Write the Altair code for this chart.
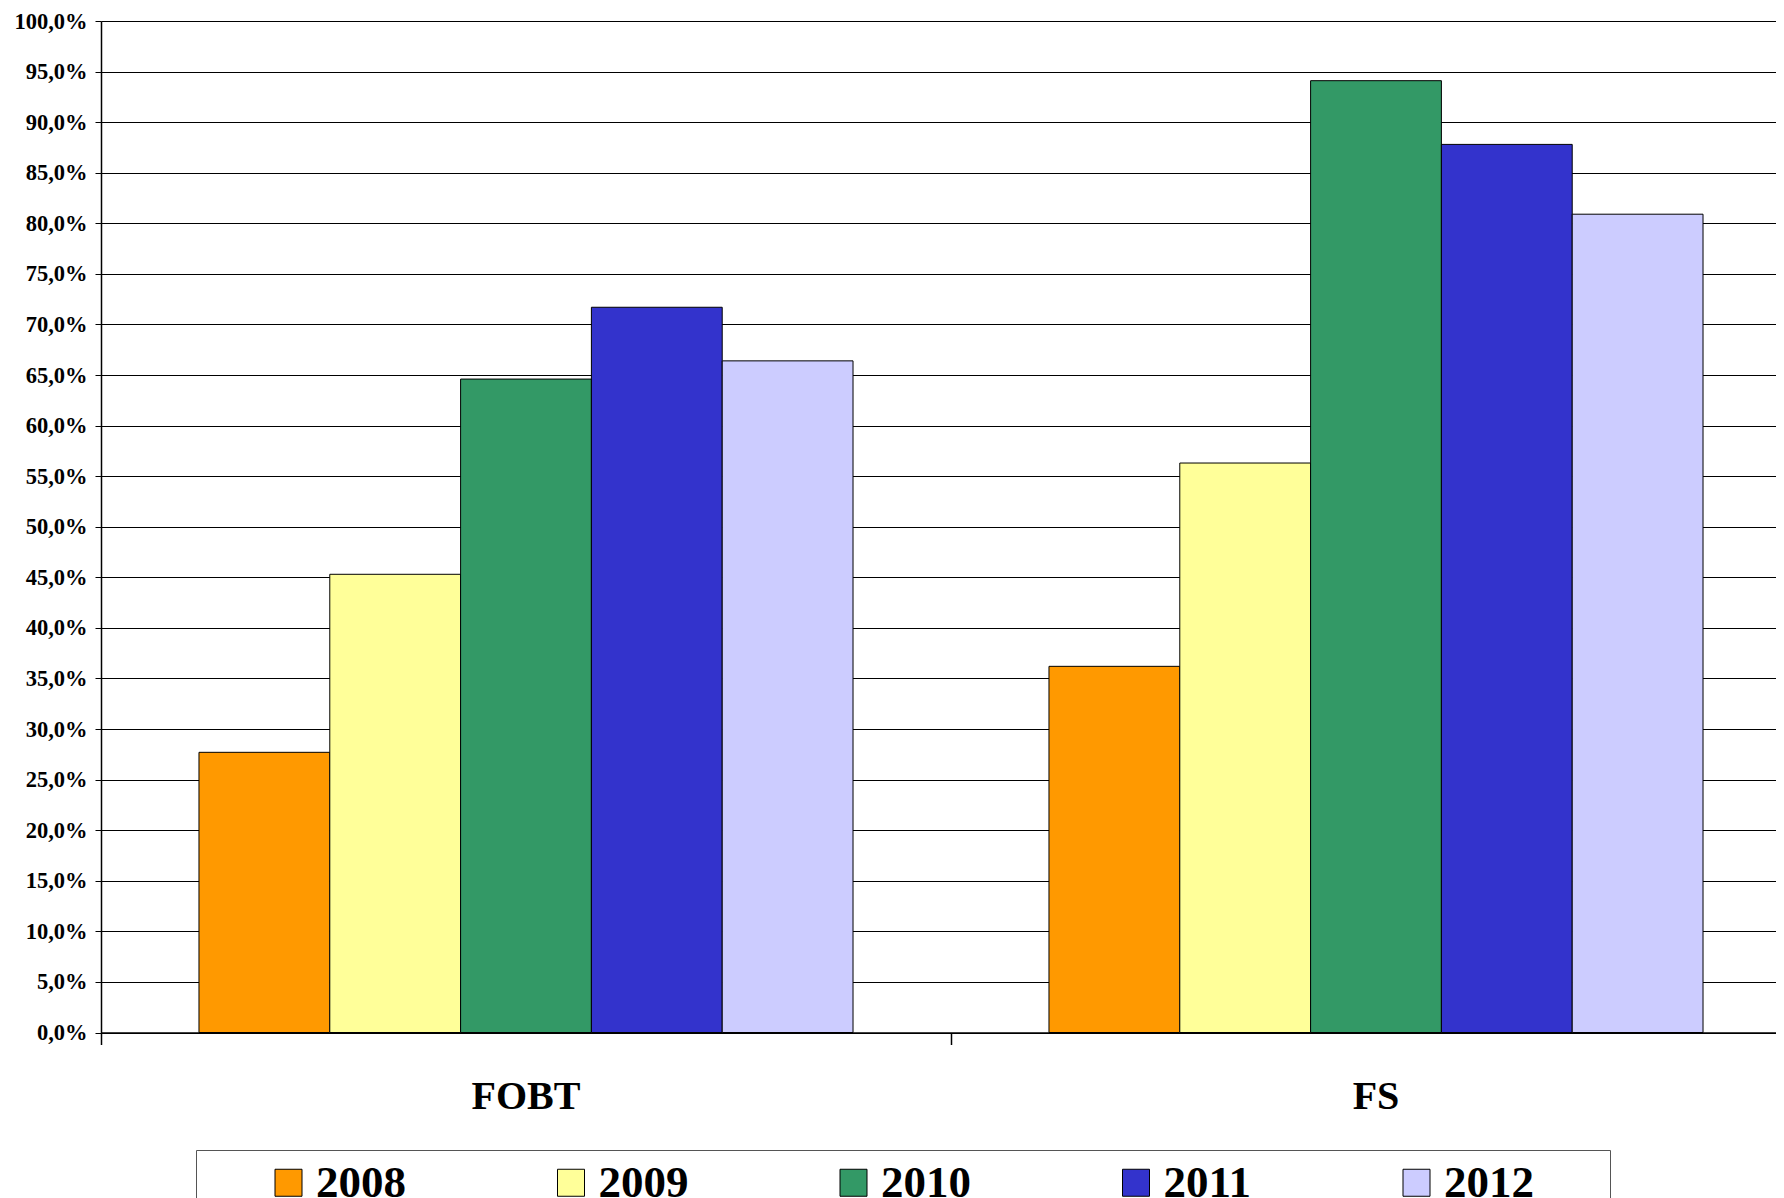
import altair as alt
import pandas as pd

categories = ["FOBT", "FS"]
years = ["2008", "2009", "2010", "2011", "2012"]
v2008 = [0.277, 0.362]
v2009 = [0.453, 0.563]
v2010 = [0.646, 0.941]
v2011 = [0.717, 0.878]
v2012 = [0.664, 0.809]
colors = ["#FF9900", "#FFFF99", "#339966", "#3333CC", "#CCCCFF"]
y_ticks = [round(i * 0.05, 2) for i in range(21)]

rows = []
for yr, vals in zip(years, [v2008, v2009, v2010, v2011, v2012]):
    for c, v in zip(categories, vals):
        rows.append({"cat": c, "year": yr, "value": v})
df = pd.DataFrame(rows)

FONT = "Liberation Serif"
NB = "\u00a0"
BLANK = "\u2800"

chart = alt.Chart(df).mark_bar(stroke="black", strokeWidth=1).encode(
    x=alt.X(
        "cat:N", sort=categories,
        scale=alt.Scale(range=[0, 1700], paddingInner=0, paddingOuter=0),
        axis=alt.Axis(title=None, labelAngle=0, labelFont=FONT, labelFontSize=40,
                      labelFontWeight="bold", labelColor="black", tickSize=12,
                      tickColor="black", tickWidth=1.5, domainColor="black", domainWidth=1.5,
                      labelPadding=32, bandPosition=0, grid=False),
    ),
    xOffset=alt.XOffset("year:N", sort=years,
                        scale=alt.Scale(paddingInner=0, paddingOuter=0.749)),
    y=alt.Y(
        "value:Q",
        scale=alt.Scale(domain=[0, 1], nice=False),
        axis=alt.Axis(title=None, values=y_ticks,
                      labelExpr="replace(format(datum.value, '.1%'), '.', ',')",
                      labelFont=FONT, labelFontSize=22.5, labelFontWeight="bold",
                      labelColor="black", tickSize=6, tickColor="black",
                      domainColor="black", domainWidth=1.5, labelPadding=8,
                      grid=True, gridColor="black", gridWidth=1, gridOpacity=1),
    ),
    color=alt.Color(
        "year:N", sort=years,
        scale=alt.Scale(domain=years, range=colors),
        legend=alt.Legend(
            orient="none", legendX=95, legendY=1129, direction="horizontal", columns=5,
            title=NB, titleOrient="left", titleFontSize=42, titlePadding=60,
            symbolType="square", symbolSize=729, symbolStrokeColor="black",
            symbolStrokeWidth=1, symbolOpacity=1,
            labelFont=FONT, labelFontSize=45, labelFontWeight="bold", labelColor="black",
            labelOffset=5, labelLimit=400, columnPadding=76.5, padding=10,
            strokeColor="#555555", fillColor="white",
            labelExpr="datum.label + '" + BLANK * 2 + "'",
        ),
    ),
).properties(
    width=1675, height=1011.5, autosize="none",
    padding={"left": 93, "top": 13, "right": 0, "bottom": 190},
    background="white",
).configure_view(strokeWidth=0)

chart.save("out.html", embed_options={"renderer": "svg", "actions": False})
